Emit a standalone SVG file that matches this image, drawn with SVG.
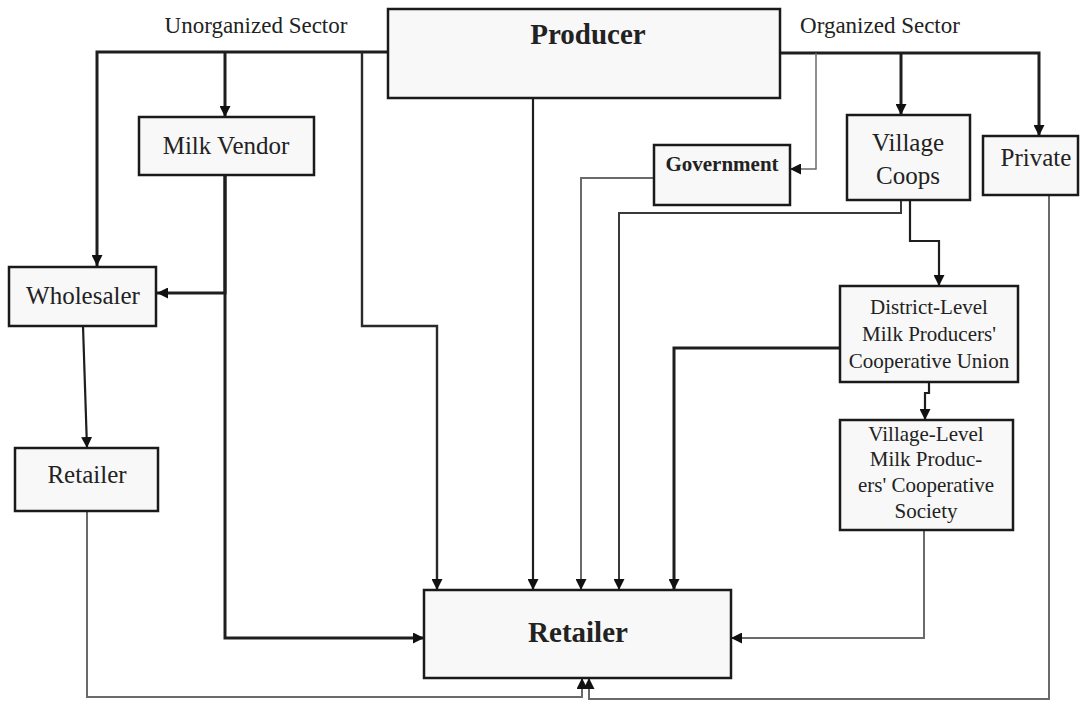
<svg xmlns="http://www.w3.org/2000/svg" width="1081" height="702" viewBox="0 0 1081 702">
<defs>
<marker id="ah" viewBox="0 0 10 10" refX="10" refY="5" markerWidth="11" markerHeight="11" markerUnits="userSpaceOnUse" orient="auto">
<path d="M0,0 L10,5 L0,10 z" fill="#111"/>
</marker>
<style>
.box{fill:#f8f8f8;stroke:#1a1a1a;stroke-width:2.5}
.t{font-family:"Liberation Serif","Times New Roman",serif;fill:#222;text-anchor:middle}
.c{fill:none;stroke:#1e1e1e;stroke-width:2.2;stroke-linejoin:miter}
.k{stroke-width:3}
.g{stroke:#6a6a6a;stroke-width:2}
.a{marker-end:url(#ah)}
</style>
</defs>
<rect width="1081" height="702" fill="#fff"/>
<g id="connectors">
<path class="c k a" d="M388,52 H97 V266"/>
<path class="c k a" d="M225,52 V117"/>
<path class="c a" d="M362,52 V326 H437 V590" style="stroke:#2a2a2a;stroke-width:2.4"/>
<path class="c a" d="M533,98 V590"/>
<path class="c k a" d="M225,175 V293 H157"/>
<path class="c k a" d="M225,175 V638 H424"/>
<path class="c a" d="M83,326 L87,448"/>
<path class="c g a" d="M87,511 V697 H582 V678"/>
<path class="c k a" d="M780,53 H1039 V136"/>
<path class="c k a" d="M901,53 V115"/>
<path class="c g a" d="M816,53 V169 H790" style="stroke-width:1.5"/>
<path class="c g a" d="M654,178 H581 V590"/>
<path class="c g a" d="M901,200 V213 H619 V590" style="stroke:#3a3a3a"/>
<path class="c a" d="M910,200 V241 H939 V286"/>
<path class="c k a" d="M840,348 H674 V590"/>
<path class="c a" d="M929,382 V393 H925 V420"/>
<path class="c g a" d="M924,530 V638 H731"/>
<path class="c g a" d="M1049,195 V699 H589 V678"/>
</g>
<text class="t" x="256" y="33" font-size="23">Unorganized Sector</text>
<text class="t" x="880" y="33" font-size="23">Organized Sector</text>
<g id="producer">
<rect class="box" x="388" y="9" width="392" height="89"/>
<text class="t" x="588" y="44" font-size="29" font-weight="bold">Producer</text>
</g>
<g id="milk-vendor">
<rect class="box" x="139" y="117" width="175" height="58"/>
<text class="t" x="226" y="154" font-size="25">Milk Vendor</text>
</g>
<g id="wholesaler">
<rect class="box" x="9" y="267" width="147" height="59"/>
<text class="t" x="83" y="304" font-size="25">Wholesaler</text>
</g>
<g id="retailer-small">
<rect class="box" x="15" y="448" width="143" height="63"/>
<text class="t" x="87" y="483" font-size="25">Retailer</text>
</g>
<g id="government">
<rect class="box" x="654" y="145" width="136" height="60"/>
<text class="t" x="722" y="171" font-size="21" font-weight="bold">Government</text>
</g>
<g id="village-coops">
<rect class="box" x="847" y="115" width="123" height="85"/>
<text class="t" x="908" y="151" font-size="25">Village</text>
<text class="t" x="908" y="184" font-size="25">Coops</text>
</g>
<g id="private">
<rect class="box" x="983" y="136" width="95" height="59"/>
<text class="t" x="1036" y="166" font-size="25">Private</text>
</g>
<g id="district">
<rect class="box" x="840" y="286" width="178" height="96"/>
<text class="t" x="929" y="314" font-size="21">District-Level</text>
<text class="t" x="929" y="341" font-size="21">Milk Producers'</text>
<text class="t" x="929" y="368" font-size="21">Cooperative Union</text>
</g>
<g id="village-level">
<rect class="box" x="840" y="420" width="173" height="110"/>
<text class="t" x="926" y="441" font-size="21">Village-Level</text>
<text class="t" x="926" y="466" font-size="21">Milk Produc-</text>
<text class="t" x="926" y="492" font-size="21">ers' Cooperative</text>
<text class="t" x="926" y="518" font-size="21">Society</text>
</g>
<g id="retailer">
<rect class="box" x="424" y="590" width="307" height="88"/>
<text class="t" x="578" y="642" font-size="29" font-weight="bold">Retailer</text>
</g>
</svg>
